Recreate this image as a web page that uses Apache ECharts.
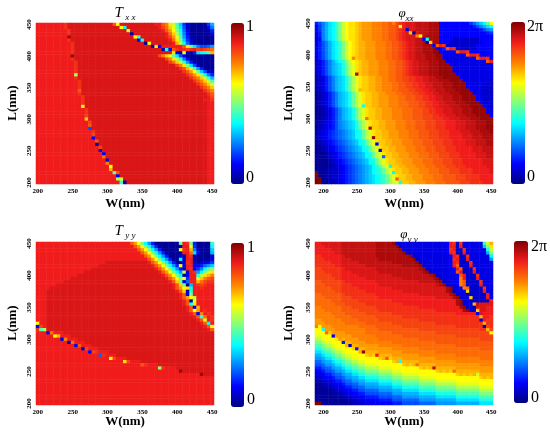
<!DOCTYPE html>
<html><head><meta charset="utf-8">
<script src="https://cdn.jsdelivr.net/npm/echarts/dist/echarts.min.js"></script>
<style>html,body{margin:0;padding:0;background:#fff}#c{width:550px;height:435px}</style>
</head><body><div id="c"></div>
<script>
// level code: each character is one cell, value = index / 40 of the full colour scale
const LEVELS = '0123456789ABCDEFGHIJKLMNOPQRSTUVWXYZabcde';

const xCatsT = [200,205,210,215,220,225,230,235,240,245,250,255,260,265,270,275,280,285,290,295,300,305,310,315,320,325,330,335,340,345,350,355,360,365,370,375,380,385,390,395,400,405,410,415,420,425,430,435,440,445,450];
const xCatsPhi = [190,195,200,205,210,215,220,225,230,235,240,245,250,255,260,265,270,275,280,285,290,295,300,305,310,315,320,325,330,335,340,345,350,355,360,365,370,375,380,385,390,395,400,405,410,415,420,425,430,435,440,445,450];
const yCats = [200,205,210,215,220,225,230,235,240,245,250,255,260,265,270,275,280,285,290,295,300,305,310,315,320,325,330,335,340,345,350,355,360,365,370,375,380,385,390,395,400,405,410,415,420,425,430,435,440,445,450];
const xTickLabels = [200,250,300,350,400,450];
const yTickLabels = [200,250,300,350,400,450];

// rows from top (L=450) to bottom (L=200); "c:n" = n cells of level c
const txxRows = [
"Z:8 Y a:13 WP a:10 Z:2 WUQNID73 1:5 7C",
"Z:8 Y a:15 PF a:9 Z XVROJE83 1:5 5A",
"Z:9 Y a:16 P a:9 Z WTPKF94 1:6 6",
"Z:9 Y a:17 2 a:9 Z VRMGA5 1:6 4",
"Z:9 d a:18 PH a:7 Z XTOIB62 1:6",
"Z:9 Y a:19 5G a:7 Z VQKD73 1:6",
"Z:10 Y a:20 1P a:6 Z SMF94 1:6",
"Z:10 Y a:22 2Q5 Z:6 WQJEA889B",
"Z:10 Y a:25 2G4W YZYXYZXYXWV",
"Z:10 Y a:28 Q41P316EFGIS",
"Z:10 d a:24 XUROJE84 1:8",
"Z:10 Y a:26 XUQMGA5 1:7",
"Z:11 Y a:26 XVRNHB62 1:5",
"Z:11 Y a:28 XUQKE83 1:4",
"Z:11 Y a:29 YWSNHB62 1:2",
"Z:11 Y a:30 YWTPJD842",
"Z:11 M a:31 YWTQLFA6",
"Z:11 Y a:32 YWURNHC",
"Z:12 Y a:32 YWURNI",
"Z:12 Y a:33 YWURN",
"Z:12 Y a:34 YWUR",
"Z:12 W a:35 YWU",
"Z:12 Y a:36 YW",
"Z:13 Y a:35 ZX",
"Z:13 Y a:34 Z:2 Y",
"Z:13 Y a:35 Z:2",
"Z:13 P a:35 Z:2",
"Z:14 Y a:34 Z:2",
"Z:14 Y a:34 Z:2",
"Z:14 X a:34 Z:2",
"Z:14 R a:34 Z:2",
"Z:15 X a:33 Z:2",
"Z:15 W a:33 Z:2",
"Z:15 8 a:33 Z:2",
"Z:16 Y a:32 Z:2",
"Z:16 X a:32 Z:2",
"Z:16 5 a:32 Z:2",
"Z:17 W a:31 Z:2",
"Z:17 2 a:31 Z:2",
"Z:18 X a:30 Z:2",
"Z:18 4 a:30 Z:2",
"Z:19 4 a:29 Z:2",
"Z:19 V a:29 Z:2",
"Z:20 3 a:28 Z:2",
"Z:20 U a:28 Z:2",
"Z:21 P a:27 Z:2",
"Z:21 S a:27 Z:2",
"Z:22 JW a:25 Z:2",
"Z:23 4 a:25 Z:2",
"Z:23 MN a:24 Z:2",
"Z:24 H2 a:23 Z:2"
];

const phixxRows = [
"68ACEFHKNPQQRSTTTUUUVVWUXYZ a:3 b:4 c:3 5:9 79BDFJP",
"57ACEFHKNPQQRSTTTUUUVVWWXPZ a:3 b:4 c:3 5:10 68ACEG",
"57ACEFHKNPQQRSTTTUUUVVWWXYZ4 a:2 b:4 c:3 5:12 68AB",
"46ACEFHKNPQQRSTTTUUUVVWWXYZaR1a b:3 c:3 5:14 67",
"46ACEFHKNPQQRSTTTUUUVVWWXYZaaaUPb c:4 5:16",
"35ACEFHKNPQQRSTTTUUUVVWWXYZaaabb5G c:3 5:4 3:8 5:4",
"468ACEFHKNPQRSSTTTUUUVVWWXYZaabbc1Rcc 5:3 3:10 5:3",
"468ACEFHKNPQRSSTTTUUUVVWWXYZaabbccc4WZY 3:9 5:5",
"468ACEFHKNPQRSSTTTUUUVVWWXYZaabbcccd556WZY 3:6 5:5",
"468ACEFHKNPQRSSTTTUUUVVWWXYZaabbcccdd55554WZZY 5:7",
"468ACEFHKNPQRSSTTTUUUVVWWXYZaabbbcccdd5 4:5 5WZZY 5:4",
"468ACEFHKNPURSSTTTUUUVVWWXYZaabbbcccdd5 4:8 5WZZY5",
"3468ACEFHKNPQRSSTTTUUUVVWWXYZaabbbcccdd5 4:11 WZ",
"3468ACDEGJMOQRSSTTTUUUVVWWXYZaabbbcccddd5 4:11 3",
"3468ACDEGJMOQRSSTTTUUUVVWWXYZaabbbccc d:4 5 4:11",
"3468ACDEGJMOQRSSTTTUUUVVWWXYZaabbbccc d:4 5 4:11",
"3468ACDEGJMOcRSSTTTUUUVVWWXYZaabbbccc d:5 5 4:10",
"23468ACDEGJMOQRRSSTTUUVVWWXXYYZZaabbcc d:5 5 4:9",
"23468ACDEGJMOQRRSSTTUUVVWWXXYYZZaabbbccc d:4 5 4:7 3",
"23468ACDEGJMOQRRSSTTUUUVVWWXXYYZZaabbbccc d:4 5 4:5 3:2",
"23468ACDEGJMOQRRSSTTUUUVVWWXXYYZZaabbbccc d:4 5 4:4 3:3",
"23468ACDEGJMOSRRSSTTUUUVVWWWXXYYZZaabbbccc d:4 5 4:3 3:3",
"123468ACDEGJMOQRRSSTTUUUVVWWWXXYYZZaabbbccc d:4 5 4:2 3:3",
"123468ACDEGJMOQRRSSTTTUUUVVWWWXXYYZZaabbbccc d:4 5 4:2 3:2",
"123468ACDEGJMOQRRSSTTTUUUVVWWWXXYYZZaabbbccc d:4 5 4 3:3",
"123468ACDEGJMOQRRSSTTTUUUVVVWWWXXYYZZaabbbccc d:4 5 4 3:2",
"123468ACDEGJMOGRRSSTTTUUUVVVWWWXXYYZZaaabbbccc d:4 543",
"1123468ACDEGJMOQRRSSTTTUUUVVVWWWXXYYZZaaabbbccc d:4 54",
"1123468ACDEGJMOQRRSSTTTUUUVVVWWWXXYYZZaaabbbccc d:4 54",
"1123468ACDEGJMOQRRSSTTTUUUVVVWWWXXXYYZZaaabbbccc d:4 5",
"1123468ACDEGJMOVRRSSTTTUUUVVVWWWXXXYYYZZaaabbbccc d:4",
"1234568ABCDEGJMOQRRSSTTTUUUVVVWWWXXXYYYZZZaaabbbcccdd",
"1234568ABCDEGJMOQRRSSTTTUUUVVVWWWXXXYYYZZZaaabbbcccdd",
"1234568ABCDEGJMOcRRSSTTTUUUVVVWWWXXXYYYZZZaaabbbcccdd",
"23456789ABCDFGJMOQRRSSTTTUUUVVVWWWXXXYYYZZZaaabbbcccd",
"23456789ABCDFGJMOQRRSSTTTUUUVVVWWWXXXYYYZZZZaaabbbccc",
"23456789ABCDFGJMOdRRSSTTTUUUVVVWWWXXXYYYZZZZaaabbbccc",
"123456789ABCDFGJMOQRRSSTTTUUUVVVWWWXXXYYYZZZZaaabbbcc",
"123456789ABCDFGJMO5RRSSTTTUUUVVVWWWXXXYYYZZZZaaabbbcc",
"1123456789ABCDFGJMOQRRSSTTTUUUVVVWWWXXXYYYZZZZZaaabbb",
"1123456789ABCDFGJMO5RRSSTTTUUUVVVWWWXXXYYYZZZZZaaabbb",
"11123456789ABCDFGJMOQRRSSTTTUUUVVVWWWXXXYYYZZZZZaaabb",
"11123456789ABCDFGJMO9RRSSTTTUUUVVVWWWXXXYYYZZZZZaaabb",
"111123456789ABCDFGJMOQRRSSTTTUUUVVVWWWXXXYYYZZZZZZaaa",
"111123456789ABCDFGJMOQRRSSTTTUUUVVVWWWXXXYYYZZZZZZaaa",
"1111123456789ABCDFGJMOFRRSSTTTUUUVVVWWWXXXYYYZZZZZZaa",
"1112233456789ABCDFGHJMOQRRSSTTTUUUVVVWWWXXXYYYYZZZZZa",
"e112233456789ABCDFGHJMOFRRSSTTTUUUVVVWWWXXXYYYYZZZZZa",
"e112233456789ABCDEFGHJMOQRRSSTTTUUUVVVWWWWXXXYYYYZZZZ",
"ee12233456789ABCDEFGHJMOWRRSSTTTUUUVVVWWWWXXXYYYYZZZZ",
"ee11223456789ABCDEFGHJLNOGRRSSTTTUUUVVVWWWWXXXYYYYZZZ"
];

const tyyRows = [
"Z:27 WTPKFB6 1:7 JZYK6 1:4 H",
"Z:28 WTPKFB6 1:6 2ZZO7 1:4 F",
"Z:29 WTPKFB6 1:5 PYZSA3 1:3 D",
"Z:30 WTPKFB6 1:4 1ZZVE5 1:3 C",
"Z:31 WTPKFB6 1:3 42ZY2 1:4 3",
"Z:32 WTPKFB6 1:2 F3ZZ2 1:4 4",
"Z:20 a:12 Z WTPKFB6 1 14YZ323457",
"Z:18 a:15 Z WTPKFB6 P5ZZ4469BD",
"Z:16 a:18 Z WTPKFB6 2ZY57AFIK",
"Z:14 a:21 Z WTPKFB N4ZYBFKOQ",
"Z:12 a:24 Z WTPKF 15ZZHMQSU",
"Z:10 a:27 Z WTPK P7ZZORUWX",
"Z:8 a:30 Z WRJ 39ZZSVXYY",
"Z:6 a:33 Z WRJ 1CZYXYZZ",
"Z:4 a:35 Z WTP QFZZYZZZ",
"Z:3 a:37 Z WR 2H Z:6",
"Z:3 a:38 Z W 4K Z:6",
"Z:3 a:38 Z WT PM Z:5",
"Z:3 a:39 Z W 1O Z:5",
"Z:3 a:39 Z W FQ Z:5",
"Z:3 a:40 Z W 3S Z:4",
"Z:3 a:40 Z W PTZY Z:2",
"Z:3 a:41 Z W 4UZYZ",
"Z:3 a:42 Z W HVZY",
"Z:3 a:43 Z W PZY",
"P Z:2 a:44 Z W F Z",
"4X Z a:45 Z W P",
"YIM a:46 Z W",
"Z:3 4V Z:3 a:43",
"Z:5 PS Z:3 a:41",
"Z:7 4U Z:3 a:39",
"Z:9 2V Z:3 a:37",
"Z:11 4W Z:3 a:35",
"Z:13 2X Z:3 a:33",
"Z:15 5XY Z:3 a:30",
"Z:18 9Y Z:3 a:28",
"Z:21 PX Z:3 a:25",
"Z:25 QX Z:3 a:21",
"Z:30 WY Z:3 a:16",
"Z:35 LY Z:3 a:11",
"Z:41 d a:9",
"Z:47 d a:3",
"Z:51",
"Z:51",
"Z:51",
"Z:51",
"Z:51",
"Z:51",
"Z:51",
"Z:51",
"Z:51"
];

const phiyyRows = [
"Z:2 a:6 b:10 c:5 d 3 4:14 5 ZY 3 Y 4:6 HNS",
"Z:3 a:5 b:10 c:6 d 3 4:13 5 ZZ 3 Z 4:6 DKQ",
"Z:5 a:3 b:10 c:7 d 3 4:12 5 YZ 3:2 Y 4:6 GN",
"Z:6 a:2 b:10 c:8 d 3 4:11 5 ZY 3:2 Z 4:6 CK",
"Y:2 Z:6 a b:9 c:10 d 3 4:10 5 ZY 3:2 Y 4:6 F",
"Y:3 Z:5 a:3 b:8 c:10 d 3 4:9 5 YZ 3:2 Z 4:6 B",
"Y:5 Z:3 a:5 b:10 c:7 d 3 4:8 5 ZY 3:3 Y 4:6",
"Y:6 Z:2 a:7 b:11 c:5 d 3 4:7 5 ZW 3:3 Z 4:6",
"X:2 Y:6 Z a:9 b:13 c d 3 4:7 5 ZW 3:3 Y 4:5",
"X:3 Y:5 Z:3 a:8 b:13 c d 3 4:6 5 WZ 3:3 Z 4:5",
"X:5 Y:3 Z:5 a:10 b:11 c d 3 4:5 5 WZ 3:3 Y 4:4",
"X:6 Y:2 Z:7 a:11 b:9 c d 3 4:4 5 UZ 3:3 Z 4:4",
"W:2 X:6 Y Z:9 a:13 b:5 c d 3 4:3 5 UW 3:4 Y 4:3",
"W:3 X:5 Y:3 Z:8 a:17 b c d 3 4:2 5 UW 3:4 Z 4:3",
"W:5 X:3 Y:5 Z:10 a:16 c d 3 4:2 UV 3:4 Y 4:2",
"W:6 X:2 Y:7 Z:11 a:13 c d 3445 R 3:4 Z 4:2",
"V:2 W:6 X Y:9 Z:13 a:9 c d 3 4:2 1 3:5 Z 4",
"V:3 W:5 X:3 Y:8 Z:17 a:5 c d 3 4:2 R 3:4 Z 4",
"V:5 W:3 X:5 Y:10 Z:19 c d 34 2 3:5 Z",
"V:6 W:3 X:6 Y:11 Z:16 c d 3 4:2 S baaaa",
"U:2 V:6 W:3 X:7 Y:13 Z:12 c d 34 1 aaaZZ",
"U:3 V:5 W:5 X:6 Y:17 Z:8 c d 34 R aaZZ",
"U:5 V:4 W:6 X:8 Y:19 Z:6 4 aZZZ",
"U:6 V:5 W:7 X:8 Y:23 S ZZY",
"T:2 U:6 V:5 W:6 X:12 Y:18 4 ZYY",
"T:3 U:6 V:6 W:8 X:13 Y:14 S Y:2",
"UP T:3 U:8 V:5 W:8 X:16 Y:8 2 XY",
"P:2 G T:3 U:9 V:4 W:12 X:18 Y:2 S X",
"P:3 VR T:4 U:6 V:8 W:13 X:16 P",
"O:2 P:3 5 T:5 U:7 V:8 W:16 X:11",
"M:2 O P:3 QTS T:4 U:6 V:12 W:18 X:4",
"K:2 M O:2 P:3 6 S:2 T:4 U:8 V:13 W:17",
"I:2 K M:2 O P:3 S2 S:2 T:6 U:7 V:16 W:11",
"G:2 I K:2 M O:2 P:3 R6 S:2 T:8 U:8 V:18 W:4",
"E:2 G I:2 K M:2 O P:4 S d S:4 T:7 U:10 V:17",
"C:2 E G:2 I K:2 M O:2 P:4 RSRZ S:4 T:8 U:11 V:11",
"B:2 C E:2 G I:2 K M:2 O:2 P:6 RSWR S:3 T:10 U:13 V:4",
"9:2 B C:2 E G:2 I K:2 M:2 O:2 P:8 RSG S:5 T:11 U:11",
"8:2 9 B:2 C E:2 G I:2 K:2 M:2 O:4 P:7 RSRSV S:5 T:13 U:4",
"6:2 8 9:2 B C:2 E G:2 I:2 K:2 M:4 O:4 P:8 RSRSb S:6 T:11",
"5:2 6 8:2 9 B:2 C E:2 G:2 I:2 K:4 M:4 O:3 P:10 RSRSRV S:7 T:4",
"4:2 5 6:2 8 9:2 B C:2 E:2 G:2 I:4 K:4 M:3 O:5 P:11 RSRSRSN S:4",
"3:2 4 5:2 6 8:2 9 B:2 C:2 E:2 G:4 I:4 K:3 M:5 O:5 P:13 RSRS",
"2:2 3 4:2 5 6:2 8 9:2 B:2 C:2 E:4 G:4 I:3 K:5 M:5 O:6 P:11",
"1:2 2 3:2 4 5:2 6 8:2 9:2 B:2 C:4 E:4 G:3 I:5 K:5 M:6 O:7 P:4",
"1:3 2:2 3 4:2 5 6:2 8:2 9:2 B:4 C:4 E:3 G:5 I:5 K:6 M:7 O:4",
"1:5 2 3:2 4 5:2 6:2 8:2 9:4 B:4 C:3 E:5 G:5 I:6 K:7 M:4",
"1:6 2:2 3 4:2 5:2 6:2 8:4 9:4 B:3 C:5 E:5 G:6 I:7 K:4",
"1:8 2 3:2 4:2 5:2 6:4 8:4 9:3 B:5 C:5 E:6 G:7 I:4",
"1:9 2:2 3:2 4:2 5:4 6:4 8:3 9:5 B:5 C:6 E:7 G:4",
"e:2 1:9 2:2 3:2 4:4 5:4 6:3 8:5 9:5 B:6 C:7 E:4"
];

const JET = ['#00007f','#0000ff','#007fff','#00ffff','#7fff7f','#ffff00','#ff7f00','#f01c1c','#800000'];
const errs = [];

function decodeRow(s) {
  const out = [];
  s.trim().split(/\s+/).forEach(tok => {
    if (tok.length > 2 && tok[1] === ':') {
      const n = parseInt(tok.slice(2), 10);
      for (let i = 0; i < n; i++) out.push(LEVELS.indexOf(tok[0]));
    } else {
      for (const ch of tok) out.push(LEVELS.indexOf(ch));
    }
  });
  return out;
}
function buildData(rows, nCols, scale, name) {
  const data = [];
  const nRows = rows.length;
  rows.forEach((s, r) => {
    const lv = decodeRow(s);
    if (lv.length !== nCols || lv.indexOf(-1) >= 0) errs.push(name + ' r' + r + ' n=' + lv.length);
    for (let c = 0; c < nCols && c < lv.length; c++) {
      data.push([c, nRows - 1 - r, lv[c] / 40 * scale]);
    }
  });
  return data;
}

const TWO_PI = 2 * Math.PI;
const panels = [
  {rows: txxRows, cats: xCatsT, max: 1, name: 'Txx', grid: {left: 36, top: 23, width: 178, height: 161}, vm: {left: 231, top: 23, w: 13, h: 161}},
  {rows: phixxRows, cats: xCatsPhi, max: TWO_PI, name: 'pxx', grid: {left: 315, top: 22, width: 178, height: 162}, vm: {left: 511, top: 22, w: 14, h: 162}},
  {rows: tyyRows, cats: xCatsT, max: 1, name: 'Tyy', grid: {left: 36, top: 242, width: 178, height: 163}, vm: {left: 231, top: 243, w: 13, h: 164}},
  {rows: phiyyRows, cats: xCatsPhi, max: TWO_PI, name: 'pyy', grid: {left: 315, top: 242, width: 178, height: 163}, vm: {left: 514, top: 241, w: 14, h: 162}}
];

const FONT = "'Liberation Serif','Times New Roman',serif";
const tickLabel = {fontFamily: FONT, fontWeight: 'bold', fontSize: 7, color: '#000'};

const option = {
  animation: false,
  backgroundColor: '#fff',
  grid: panels.map(p => Object.assign({containLabel: false, outerBoundsMode: 'none'}, p.grid)),
  xAxis: panels.map((p, i) => ({
    type: 'category', gridIndex: i, data: p.cats.map(String), boundaryGap: true,
    axisLine: {show: false}, axisTick: {show: false}, splitLine: {show: false},
    axisLabel: Object.assign({margin: 4, interval: (idx, v) => xTickLabels.indexOf(Number(v)) >= 0}, tickLabel)
  })),
  yAxis: panels.map((p, i) => ({
    type: 'category', gridIndex: i, data: yCats.map(String), boundaryGap: true,
    axisLine: {show: false}, axisTick: {show: false}, splitLine: {show: false},
    axisLabel: Object.assign({margin: 3, rotate: 90, interval: (idx, v) => yTickLabels.indexOf(Number(v)) >= 0}, tickLabel)
  })),
  visualMap: panels.map((p, i) => ({
    type: 'continuous', seriesIndex: i, dimension: 2, min: 0, max: p.max,
    calculable: false, hoverLink: false, padding: 0, orient: 'vertical',
    left: p.vm.left, top: p.vm.top, itemWidth: p.vm.w, itemHeight: p.vm.h,
    inRange: {color: JET}, text: null
  })),
  series: panels.map((p, i) => ({
    type: 'heatmap', xAxisIndex: i, yAxisIndex: i, progressive: 0, silent: true,
    itemStyle: {borderWidth: 0}, emphasis: {disabled: true},
    data: buildData(p.rows, p.cats.length, p.max, p.name)
  })),
  graphic: {elements: []}
};

const G = option.graphic.elements;
function txt(x, y, text, font, extra) {
  G.push(Object.assign({type: 'text', x: x, y: y, silent: true,
    style: {text: text, font: font, fill: '#000', textAlign: 'center', textVerticalAlign: 'middle'}}, extra || {}));
}
function title(x, y, main, sub, mainSize) {
  G.push({type: 'text', x: x, y: y, silent: true, style: {
    text: '{m|' + main + '}{s|' + sub + '}', textAlign: 'center', textVerticalAlign: 'middle', fill: '#000',
    rich: {
      m: {fontFamily: FONT, fontStyle: 'italic', fontSize: mainSize, lineHeight: 18, verticalAlign: 'middle'},
      s: {fontFamily: FONT, fontStyle: 'italic', fontSize: 9, lineHeight: 11, verticalAlign: 'bottom'}
    }}});
}
title(125, 13, 'T', ' x x', 15);
title(406, 14, 'φ', 'xx', 13);
title(125, 231, 'T', ' y y', 15);
title(409, 235, 'φ', 'y y', 13);

const axisFont = 'bold 13px ' + FONT;
[[125, 204], [404, 204], [125, 422], [404, 422]].forEach(p => txt(p[0], p[1], 'W(nm)', axisFont));
[[13, 103], [289, 103], [13, 323], [289, 323]].forEach(p => txt(p[0], p[1], 'L(nm)', axisFont, {rotation: Math.PI / 2}));

const cbFont = '16px ' + FONT;
const cbLabels = [
  [246, 27, '1'], [246, 178, '0'],
  [527, 27, '2π'], [527, 177, '0'],
  [247, 248, '1'], [247, 400, '0'],
  [531, 247, '2π'], [531, 398, '0']
];
cbLabels.forEach(l => G.push({type: 'text', x: l[0], y: l[1], silent: true,
  style: {text: l[2], font: cbFont, fill: '#000', textAlign: 'left', textVerticalAlign: 'middle'}}));

if (errs.length) {
  G.push({type: 'text', x: 5, y: 5, style: {text: errs.join('\n'), font: '10px sans-serif', fill: '#f0f', textVerticalAlign: 'top'}});
}

const chart = echarts.init(document.getElementById('c'), null, {renderer: 'canvas'});
chart.setOption(option);
</script></body></html>
